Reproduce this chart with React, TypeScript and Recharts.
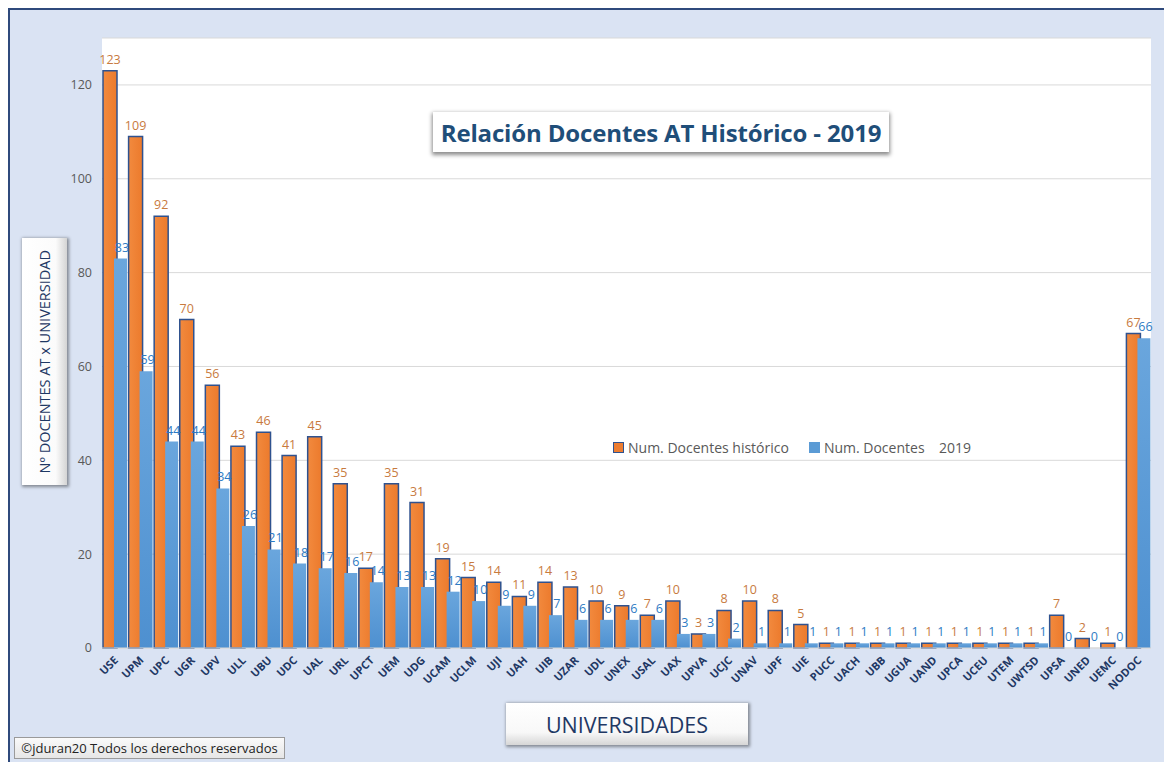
import React from "react";
import { BarChart, Bar, XAxis, YAxis, CartesianGrid, LabelList, Legend } from "recharts";

const categories = [
  "USE", "UPM", "UPC", "UGR", "UPV", "ULL", "UBU", "UDC", "UAL", "URL",
  "UPCT", "UEM", "UDG", "UCAM", "UCLM", "UJI", "UAH", "UIB", "UZAR", "UDL",
  "UNEX", "USAL", "UAX", "UPVA", "UCJC", "UNAV", "UPF", "UIE", "PUCC", "UACH",
  "UBB", "UGUA", "UAND", "UPCA", "UCEU", "UTEM", "UWTSD", "UPSA", "UNED", "UEMC", "NODOC",
];

const historico = [
  123, 109, 92, 70, 56, 43, 46, 41, 45, 35,
  17, 35, 31, 19, 15, 14, 11, 14, 13, 10,
  9, 7, 10, 3, 8, 10, 8, 5, 1, 1,
  1, 1, 1, 1, 1, 1, 1, 7, 2, 1, 67,
];

const docentes2019 = [
  83, 59, 44, 44, 34, 26, 21, 18, 17, 16,
  14, 13, 13, 12, 10, 9, 9, 7, 6, 6,
  6, 6, 3, 3, 2, 1, 1, 1, 1, 1,
  1, 1, 1, 1, 1, 1, 1, 0, 0, 0, 66,
];

const yTicks = [0, 20, 40, 60, 80, 100, 120];

const seriesOrder = ["historico", "d2019"];

const data = categories.map((name, i) => ({
  name,
  historico: historico[i],
  d2019: docentes2019[i],
}));

const FONT = '"Open Sans", "DejaVu Sans", sans-serif';

const XTick = (props: any) => {
  const { x, y, payload } = props;
  return (
    <g transform={`translate(${x + 4},${y + 5})`}>
      <text
        textAnchor="end"
        transform="rotate(-45)"
        fill="#1F3864"
        fontSize={11}
        fontWeight={700}
        fontFamily={FONT}
      >
        {payload.value}
      </text>
    </g>
  );
};

const LegendContent = (props: any) => {
  const payload = [...(props.payload || [])].sort(
    (a: any, b: any) => seriesOrder.indexOf(a.dataKey) - seriesOrder.indexOf(b.dataKey)
  );
  return (
    <div style={{ display: "flex", alignItems: "center", fontFamily: FONT, fontSize: 14, color: "#595959" }}>
      {payload.map((p: any, i: number) => {
        const isHist = p.dataKey === "historico";
        return (
          <div key={i} style={{ display: "flex", alignItems: "center", marginLeft: i === 0 ? 0 : 20 }}>
            <span
              style={{
                display: "inline-block",
                width: 9,
                height: 9,
                background: isHist ? "#ED7D31" : "#5B9BD5",
                border: isHist ? "1.5px solid #2F528F" : "1.5px solid #5B9BD5",
                marginRight: 4,
              }}
            />
            <span style={{ whiteSpace: "pre" }}>{p.value}</span>
          </div>
        );
      })}
    </div>
  );
};

export default function App() {
  return (
    <>
      <style>{`html,body{margin:0;padding:0;overflow:hidden;background:#fff}`}</style>
      <div style={{ position: "relative", width: 1164, height: 762, background: "#fff", fontFamily: FONT }}>
        <div
          style={{
            position: "absolute",
            left: 8,
            top: 8,
            width: 1156,
            height: 754,
            background: "#DAE3F3",
            borderTop: "2px solid #2F4A7C",
            borderLeft: "2px solid #2F4A7C",
            boxSizing: "border-box",
          }}
        />
        <div style={{ position: "absolute", left: 8, top: 8 }}>
          <BarChart
            width={1156}
            height={754}
            data={data}
            margin={{ top: 30, right: 13, bottom: 0, left: 0 }}
            barGap={-3}
          >
            <defs>
              <linearGradient id="gOrange" x1="0" y1="0" x2="1" y2="0">
                <stop offset="0%" stopColor="#F28A3E" />
                <stop offset="100%" stopColor="#EC7A2C" />
              </linearGradient>
              <linearGradient id="gBlue" x1="0" y1="0" x2="0" y2="1">
                <stop offset="0%" stopColor="#6AA6DD" />
                <stop offset="100%" stopColor="#4E90D0" />
              </linearGradient>
            </defs>
            <CartesianGrid vertical={false} stroke="#D9D9D9" fill="#FFFFFF" />
            <XAxis
              dataKey="name"
              interval={0}
              height={114}
              tick={<XTick />}
              tickLine={false}
              axisLine={{ stroke: "#D9D9D9" }}
            />
            <YAxis
              width={94}
              domain={[0, 130]}
              ticks={yTicks}
              axisLine={false}
              tickLine={false}
              tickMargin={4}
              tick={{ fill: "#595959", fontSize: 12.5, fontFamily: FONT }}
            />
            <Legend
              layout="horizontal"
              verticalAlign="middle"
              align="center"
              content={<LegendContent />}
              wrapperStyle={{ left: 605, top: 430, width: "auto" }}
            />
            <Bar
              dataKey="historico"
              name="Num. Docentes histórico"
              fill="url(#gOrange)"
              stroke="#2F528F"
              strokeWidth={1.5}
              barSize={14}
              isAnimationActive={false}
            >
              <LabelList
                dataKey="historico"
                position="top"
                offset={7}
                fill="#C87A3E"
                fontSize={12.5}
                fontFamily={FONT}
              />
            </Bar>
            <Bar
              dataKey="d2019"
              name="Num. Docentes    2019"
              fill="url(#gBlue)"
              barSize={13}
              minPointSize={0.01}
              isAnimationActive={false}
            >
              <LabelList
                dataKey="d2019"
                position="top"
                offset={7}
                fill="#2E7BC4"
                fontSize={12.5}
                fontFamily={FONT}
                dx={1.5}
              />
            </Bar>
          </BarChart>
        </div>

        {/* Title box */}
        <div
          style={{
            position: "absolute",
            left: 433,
            top: 112,
            width: 456,
            height: 40,
            background: "#fff",
            boxShadow: "0 2px 4px 1px rgba(0,0,0,0.45)",
            display: "flex",
            alignItems: "center",
            justifyContent: "center",
            fontSize: 24,
            fontWeight: 700,
            color: "#1F4E79",
            whiteSpace: "nowrap",
            letterSpacing: -0.15,
          }}
        >
          Relación Docentes AT Histórico - 2019
        </div>

        {/* Y axis label box */}
        <div
          style={{
            position: "absolute",
            left: 22,
            top: 238,
            width: 45,
            height: 247,
            background: "linear-gradient(90deg,#ffffff 0%,#fbfbfb 75%,#d4d4d4 100%)",
            boxShadow: "1px 1px 3px 1px rgba(0,0,0,0.4)",
            display: "flex",
            alignItems: "center",
            justifyContent: "center",
          }}
        >
          <span
            style={{
              writingMode: "vertical-rl",
              transform: "rotate(180deg)",
              fontSize: 14.5,
              color: "#1F3864",
              whiteSpace: "nowrap",
            }}
          >
            Nº DOCENTES AT x UNIVERSIDAD
          </span>
        </div>

        {/* X axis label box */}
        <div
          style={{
            position: "absolute",
            left: 506,
            top: 703,
            width: 242,
            height: 42,
            background: "linear-gradient(180deg,#ffffff 0%,#f8f8f8 70%,#d6d6d6 100%)",
            boxShadow: "1px 1px 3px 1px rgba(0,0,0,0.4)",
            display: "flex",
            alignItems: "center",
            justifyContent: "center",
            fontSize: 21.5,
            color: "#1F3864",
            whiteSpace: "nowrap",
          }}
        >
          UNIVERSIDADES
        </div>

        {/* Copyright box */}
        <div
          style={{
            position: "absolute",
            left: 14,
            top: 737,
            width: 271,
            height: 22,
            background: "linear-gradient(180deg,#fafafa 0%,#e6e6e6 100%)",
            border: "1px solid #9a9a9a",
            boxSizing: "border-box",
            display: "flex",
            alignItems: "center",
            justifyContent: "center",
            fontSize: 13,
            color: "#222",
            whiteSpace: "nowrap",
          }}
        >
          ©jduran20 Todos los derechos reservados
        </div>
      </div>
    </>
  );
}
